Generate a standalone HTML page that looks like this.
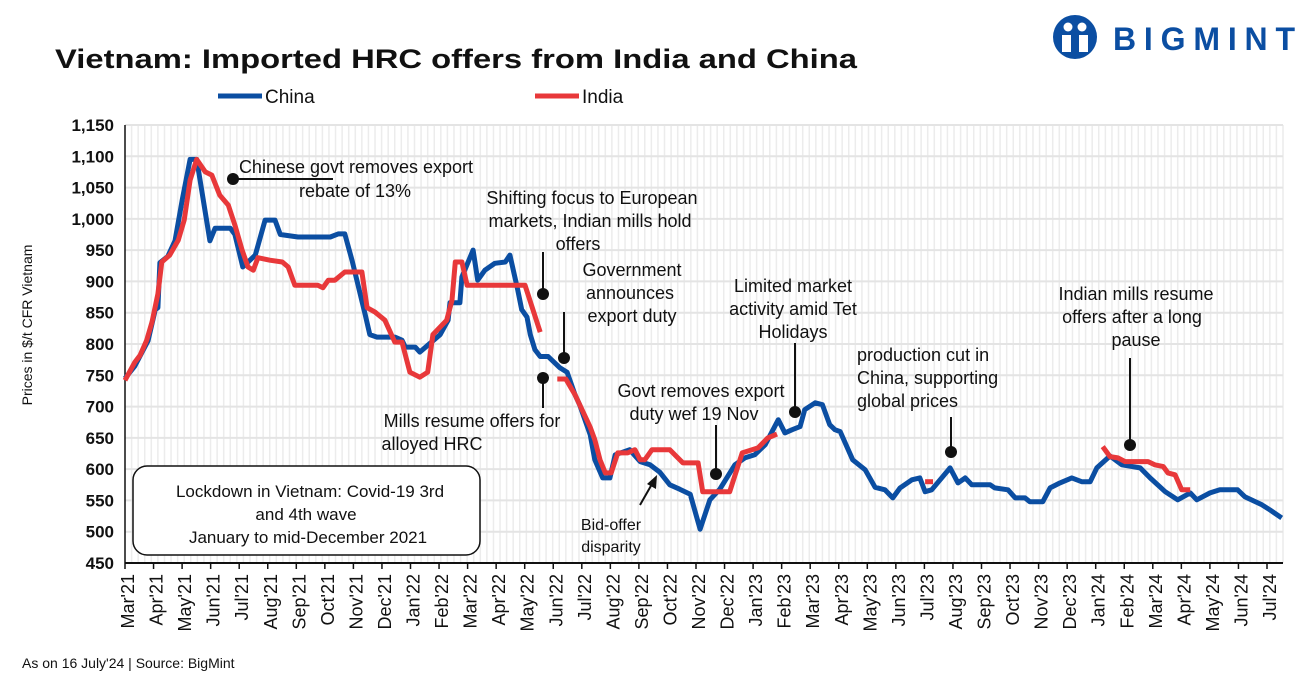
<!DOCTYPE html>
<html><head><meta charset="utf-8"><style>
html,body{margin:0;padding:0;background:#fff;}
svg{display:block;font-family:"Liberation Sans",sans-serif;}
</style></head><body>
<svg id="chart" width="1309" height="681" viewBox="0 0 1309 681">
<text x="55" y="68" font-size="27" font-weight="bold" fill="#111" textLength="802" lengthAdjust="spacingAndGlyphs">Vietnam: Imported HRC offers from India and China</text>
<g>
<circle cx="1075" cy="37" r="22" fill="#0b4ea2"/>
<circle cx="1068" cy="27" r="4.5" fill="#fff"/><circle cx="1082" cy="27" r="4.5" fill="#fff"/>
<path d="M1062 35 h9 v17 h-9z M1079 35 h9 v17 h-9z" fill="#fff"/>
<text x="1113" y="50" font-size="32" font-weight="bold" fill="#0b4ea2" textLength="182" lengthAdjust="spacing">BIGMINT</text>
</g>
<g>
<line x1="218" y1="96" x2="262" y2="96" stroke="#0b4ea2" stroke-width="5"/>
<text x="265" y="103" font-size="19" fill="#111">China</text>
<line x1="535" y1="96" x2="579" y2="96" stroke="#e8383a" stroke-width="5"/>
<text x="582" y="103" font-size="19" fill="#111">India</text>
</g>
<g id="grid"></g>
<g id="axes"></g>
<g id="series"></g>
<text transform="translate(32,325) rotate(-90)" text-anchor="middle" font-size="14" fill="#111">Prices in $/t CFR Vietnam</text>
<g id="ann" font-size="18" fill="#111" text-anchor="middle">
<circle cx="233" cy="179" r="6"/><line x1="233" y1="179" x2="333" y2="179" stroke="#111" stroke-width="2"/>
<text x="356" y="173">Chinese govt removes export</text><text x="355" y="197">rebate of 13%</text>
<text x="592" y="204">Shifting focus to European</text><text x="590" y="227">markets, Indian mills hold</text><text x="578" y="250">offers</text>
<line x1="543" y1="252" x2="543" y2="294" stroke="#111" stroke-width="2"/><circle cx="543" cy="294" r="6"/>
<text x="632" y="276">Government</text><text x="630" y="299">announces</text><text x="632" y="322">export duty</text>
<line x1="564" y1="312" x2="564" y2="358" stroke="#111" stroke-width="2"/><circle cx="564" cy="358" r="6"/>
<circle cx="543" cy="378" r="6"/><line x1="543" y1="378" x2="543" y2="408" stroke="#111" stroke-width="2"/>
<text x="472" y="427">Mills resume offers for</text><text x="432" y="450">alloyed HRC</text>
<text x="701" y="397">Govt removes export</text><text x="694" y="420">duty wef 19 Nov</text>
<line x1="716" y1="425" x2="716" y2="474" stroke="#111" stroke-width="2"/><circle cx="716" cy="474" r="6"/>
<line x1="640" y1="505" x2="652" y2="484" stroke="#111" stroke-width="2"/><path d="M657 475 L647 484 L656 489Z" fill="#111"/>
<text x="611" y="530" font-size="16">Bid-offer</text><text x="611" y="552" font-size="16">disparity</text>
<text x="793" y="292">Limited market</text><text x="793" y="315">activity amid Tet</text><text x="793" y="338">Holidays</text>
<line x1="795" y1="343" x2="795" y2="412" stroke="#111" stroke-width="2"/><circle cx="795" cy="412" r="6"/>
<text x="857" y="361" text-anchor="start">production cut in</text><text x="857" y="384" text-anchor="start">China, supporting</text><text x="857" y="407" text-anchor="start">global prices</text>
<line x1="951" y1="417" x2="951" y2="452" stroke="#111" stroke-width="2"/><circle cx="951" cy="452" r="6"/>
<text x="1136" y="300">Indian mills resume</text><text x="1132" y="323">offers after a long</text><text x="1136" y="346">pause</text>
<line x1="1130" y1="358" x2="1130" y2="445" stroke="#111" stroke-width="2"/><circle cx="1130" cy="445" r="6"/>
<rect x="133" y="466" width="347" height="89" rx="14" fill="#fff" stroke="#111" stroke-width="1.5"/>
<text x="310" y="497" font-size="17">Lockdown in Vietnam: Covid-19 3rd</text><text x="306" y="520" font-size="17">and 4th wave</text><text x="308" y="543" font-size="17">January to mid-December 2021</text>
</g>
<text x="22" y="668" font-size="14" fill="#111">As on 16 July'24 | Source: BigMint</text>
</svg>
<script>
const yTicks=[450,500,550,600,650,700,750,800,850,900,950,1000,1050,1100,1150];
const months=["Mar'21","Apr'21","May'21","Jun'21","Jul'21","Aug'21","Sep'21","Oct'21","Nov'21","Dec'21","Jan'22","Feb'22","Mar'22","Apr'22","May'22","Jun'22","Jul'22","Aug'22","Sep'22","Oct'22","Nov'22","Dec'22","Jan'23","Feb'23","Mar'23","Apr'23","May'23","Jun'23","Jul'23","Aug'23","Sep'23","Oct'23","Nov'23","Dec'23","Jan'24","Feb'24","Mar'24","Apr'24","May'24","Jun'24","Jul'24"];
const chinaWeeks=[0,1.5,3.5,4.6,5,5.3,6.5,7.6,8.7,9.9,10.9,12.9,13.7,16,16.7,17.9,19.8,21.3,22.8,23.6,26.3,31.2,32.4,33.4,34.5,36.5,37.2,38.3,41,42.1,42.6,44.1,44.8,46,47.9,49.1,49.4,50.9,51.2,52.9,53.6,54.7,56.2,57.8,58.5,59.7,60.3,61.1,61.6,62.3,63.1,64.3,66.1,67.2,68.4,69.1,70.7,71.4,72.6,73.7,74.5,76.7,78.3,79.8,81.3,82.8,84.3,85.9,87.4,88.9,90.4,92.7,94.2,95.7,97.3,99.3,100.3,101.4,102.6,103.3,104.9,106,107.1,107.9,108.7,110.6,112.5,114,115.5,116.7,117.8,119.6,120.8,121.6,122.6,125.4,126.6,127.7,128.7,131.5,132.2,134.2,135.3,136.8,137.5,139.5,140.6,142.1,143.9,145.4,146.7,147.7,149.7,151.5,154.3,155.8,158.1,160,161.9,162.9,164.9,166.4,169.1,170.2,172.8,174,175.8];
const chinaValues=[745,765,805,855,858,930,940,965,1030,1095,1095,965,985,985,975,923,942,998,998,975,971,971,976,976,934,847,815,811,811,806,795,795,787,798,815,838,866,866,907,950,902,918,929,931,942,886,855,843,815,791,780,780,762,755,719,703,655,615,586,586,623,631,612,607,595,575,568,560,504,551,568,607,618,623,639,679,658,663,668,695,706,703,671,663,660,615,599,571,567,554,570,583,586,564,567,602,578,586,575,575,570,567,554,554,548,548,570,578,586,580,580,602,621,607,602,586,564,551,562,551,562,567,567,556,543,535,522];
const indiaSegWeeks=[
[0,1.5,2.3,3.3,4.1,5,5.6,6.8,8.1,9,9.9,10.9,12.2,13.2,14.4,15.7,16.7,17.8,18.7,19.5,20.2,22,23.9,24.8,25.8,29.3,30.1,30.9,31.9,33.4,36,36.8,38,39.5,41,42.1,43.3,44.8,46,46.8,48.9,49.7,50.2,51.2,52,60.8,63.1],
[65.7,67,68.4,70.7,71.4,72.2,73,73.9,74.9,76.4,77.5,78.3,79,80.1,82.8,84.8,87.1,87.8,91.9,93.8,96.2,97.7,99.1],
[121.6,122.8],
[148.6,149.7,150.9,152,155.5,156.5,157.8,158.5,159.6,160.6,161.9]];
const indiaSegValues=[
[742,771,782,806,835,880,931,942,966,998,1062,1095,1075,1070,1038,1022,990,950,923,918,938,934,931,923,894,894,890,902,902,915,915,858,851,838,803,803,755,747,755,815,838,870,931,931,894,894,819],
[744,744,719,667,647,615,594,594,626,626,631,615,615,631,631,610,610,564,564,626,634,650,656],
[580,580],
[636,620,618,612,612,607,604,594,591,567,567]];
const NS="http://www.w3.org/2000/svg";
const X0=125,X1=1283,Y0=563,Y1=125,WMAX=176;
const xw=w=>X0+w*(X1-X0)/WMAX;
const yv=v=>Y0-(v-450)*(Y0-Y1)/700;
const xm=m=>125+m*28.55;
function mk(p,tag,at){const e=document.createElementNS(NS,tag);for(const k in at)e.setAttribute(k,at[k]);p.appendChild(e);return e;}
const grid=document.getElementById('grid'),axes=document.getElementById('axes'),ser=document.getElementById('series');
for(let w=1;w<=WMAX;w++){const l=mk(grid,'line',{x1:xw(w),x2:xw(w),y1:Y1,y2:Y0,stroke:'#ececec','stroke-width':1.5});

}
yTicks.forEach(v=>{const l=mk(grid,'line',{x1:X0,x2:X1,y1:yv(v),y2:yv(v),stroke:'#e4e4e4','stroke-width':2});


const t=mk(axes,'text',{x:114,y:yv(v)+6,'text-anchor':'end','font-size':17,'font-weight':'bold',fill:'#111'});


t.textContent=v.toLocaleString('en-US');});
const ax=mk(axes,'line',{x1:X0,x2:X0,y1:Y1,y2:Y0,stroke:'#111','stroke-width':1.5});


const bx=mk(axes,'line',{x1:X0,x2:X1,y1:Y0,y2:Y0,stroke:'#111','stroke-width':2});


months.forEach((m,i)=>{const x=xm(i);
const k=mk(axes,'line',{x1:x,x2:x,y1:Y0,y2:Y0+6,stroke:'#111','stroke-width':1.5});


const t=mk(axes,'text',{transform:`translate(${x+9},${Y0+11}) rotate(-90)`,'text-anchor':'end','font-size':18,fill:'#111'});


t.textContent=m;});
function path(ws,vs){return ws.map((w,i)=>(i?'L':'M')+xw(w).toFixed(1)+' '+yv(vs[i]).toFixed(1)).join(' ');}
const cp=mk(ser,'path',{d:path(chinaWeeks,chinaValues),fill:'none',stroke:'#0b4ea2','stroke-width':5,'stroke-linejoin':'round'});


indiaSegWeeks.forEach((ws,i)=>{const p=mk(ser,'path',{d:path(ws,indiaSegValues[i]),fill:'none',stroke:'#e8383a','stroke-width':5,'stroke-linejoin':'round'});

});
</script>
</body></html>
